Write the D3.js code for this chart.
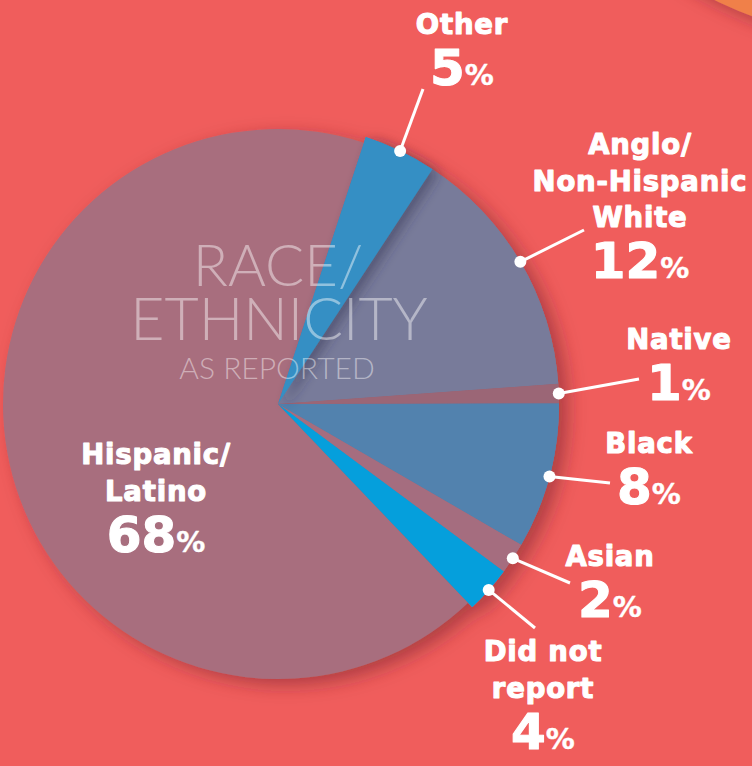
<!DOCTYPE html>
<html>
<head>
<meta charset="utf-8">
<script src="https://cdn.jsdelivr.net/npm/d3@7"></script>
<style>
  html, body { margin: 0; padding: 0; background: #f05d5c; overflow: hidden; }
  svg { display: block; }
</style>
</head>
<body>
<div id="chart"></div>
<script>
// wedges clockwise from the top
const groups   = ["Other", "Anglo", "Native", "Black", "Asian", "DidNotReport", "Hispanic"];
const reported = [5, 12, 1, 8, 2, 4, 68];                 // printed percentages
const drawn    = [4.2, 14.6, 1.1, 8.4, 1.8, 2.7, 67.2];   // share of the circle each wedge takes in the picture
const names    = [["Other"], ["Anglo/", "Non-Hispanic", "White"], ["Native"], ["Black"], ["Asian"], ["Did not", "report"], ["Hispanic/", "Latino"]];
const title    = ["RACE/", "ETHNICITY", "AS REPORTED"];

const width = 752, height = 766;
const cx = 278, cy = 404;

const colors = {
  Other: "#348fc4", Anglo: "#787b9a", Native: "#9b6676", Black: "#5282ae",
  Asian: "#a56d7f", DidNotReport: "#059fdc", Hispanic: "#a86e7e"
};
const radius = { Hispanic: 275 };
const defaultRadius = 281;

// label anchors (centre x, first baseline) and end of connector
const layout = {
  Other:        { x: 462, y: 34,  end: [423, 89] },
  Anglo:        { x: 640, y: 154, end: [584, 230] },
  Native:       { x: 679, y: 349, end: [639, 379] },
  Black:        { x: 649, y: 453, end: [610, 483] },
  Asian:        { x: 610, y: 566, end: [570, 583] },
  DidNotReport: { x: 543, y: 661, end: [535, 628] },
  Hispanic:     { x: 156, y: 464, end: null }
};

const svg = d3.select("#chart")
  .append("svg")
  .attr("width", width)
  .attr("height", height);

const defs = svg.append("defs");
defs.append("filter")
  .attr("id", "shadow")
  .attr("x", "-20%").attr("y", "-20%").attr("width", "140%").attr("height", "140%")
  .append("feDropShadow")
  .attr("dx", 9).attr("dy", 6)
  .attr("stdDeviation", 9)
  .attr("flood-color", "#6e1c28")
  .attr("flood-opacity", 0.5);
defs.append("filter")
  .attr("id", "soft")
  .attr("x", "-30%").attr("y", "-30%").attr("width", "160%").attr("height", "160%")
  .append("feDropShadow")
  .attr("dx", 6).attr("dy", 4)
  .attr("stdDeviation", 6)
  .attr("flood-color", "#2c2c48")
  .attr("flood-opacity", 0.45);

// background
svg.append("rect")
  .attr("width", width).attr("height", height)
  .attr("fill", "#f05d5c");

// orange disc peeking in at the top right
svg.append("circle")
  .attr("cx", 900).attr("cy", -380).attr("r", 423)
  .attr("fill", "#f0804a")
  .attr("filter", "url(#shadow)");

const data = groups.map((g, i) => ({ group: g, reported: reported[i], drawn: drawn[i] }));

const start = 18.2 * Math.PI / 180;
const pie = d3.pie()
  .sort(null)
  .value(d => d.drawn)
  .startAngle(start)
  .endAngle(start + 2 * Math.PI);

const arcs = pie(data);
const byGroup = {};
arcs.forEach(a => byGroup[a.data.group] = a);

const rOf = g => radius[g] || defaultRadius;
const arc = d3.arc()
  .innerRadius(0)
  .outerRadius(d => rOf(d.data.group));

const chart = svg.append("g")
  .attr("transform", `translate(${cx},${cy})`);

// shadow of the whole pie on the background
chart.append("g")
  .attr("filter", "url(#shadow)")
  .selectAll("path")
  .data(arcs)
  .join("path")
  .attr("d", arc)
  .attr("fill", d => colors[d.data.group]);

// the Other wedge sits on top and throws a shadow on Anglo
const order = ["Anglo", "Black", "Native", "Asian", "DidNotReport", "Other"];
chart.append("g")
  .selectAll("path")
  .data(order.map(g => byGroup[g]))
  .join("path")
  .attr("d", arc)
  .attr("fill", d => colors[d.data.group])
  .attr("filter", d => d.data.group === "Other" ? "url(#soft)" : null);

// centre title
const titleG = svg.append("g")
  .attr("font-family", "Lato, 'Open Sans', sans-serif")
  .attr("font-weight", 300)
  .attr("fill", "#ffffff")
  .attr("fill-opacity", 0.45)
  .attr("text-anchor", "middle");
titleG.append("text").attr("x", cx).attr("y", 286).attr("font-size", 58).text(title[0]);
titleG.append("text").attr("x", cx + 1).attr("y", 340).attr("font-size", 59).text(title[1]);
titleG.append("text").attr("x", cx - 1).attr("y", 379).attr("font-size", 30).text(title[2]);

// connectors
const connectors = svg.append("g");
arcs.forEach(a => {
  const l = layout[a.data.group];
  if (!l.end) return;
  const mid = (a.startAngle + a.endAngle) / 2;
  const r = rOf(a.data.group);
  const px = cx + Math.sin(mid) * r;
  const py = cy - Math.cos(mid) * r;
  connectors.append("line")
    .attr("x1", px).attr("y1", py)
    .attr("x2", l.end[0]).attr("y2", l.end[1])
    .attr("stroke", "#ffffff")
    .attr("stroke-width", 3);
  connectors.append("circle")
    .attr("cx", px).attr("cy", py).attr("r", 6)
    .attr("fill", "#ffffff");
});

// labels
const labels = svg.append("g")
  .attr("font-family", "'DejaVu Sans', Lato, sans-serif")
  .attr("font-weight", 700)
  .attr("fill", "#ffffff")
  .attr("stroke", "#ffffff")
  .attr("stroke-width", 1.1)
  .attr("stroke-linejoin", "round")
  .attr("text-anchor", "middle");

data.forEach((d, i) => {
  const l = layout[d.group];
  names[i].forEach((line, j) => {
    labels.append("text")
      .attr("x", l.x)
      .attr("y", l.y + j * 36.5)
      .attr("font-size", 27.5)
      .attr("letter-spacing", 0.8)
      .text(line);
  });
  const num = labels.append("text")
    .attr("x", l.x)
    .attr("y", l.y + (names[i].length - 1) * 36.5 + 51);
  num.append("tspan").attr("font-size", 50).text(d.reported);
  num.append("tspan").attr("font-size", 29).attr("stroke-width", 0.4).text("%");
});
</script>
</body>
</html>
